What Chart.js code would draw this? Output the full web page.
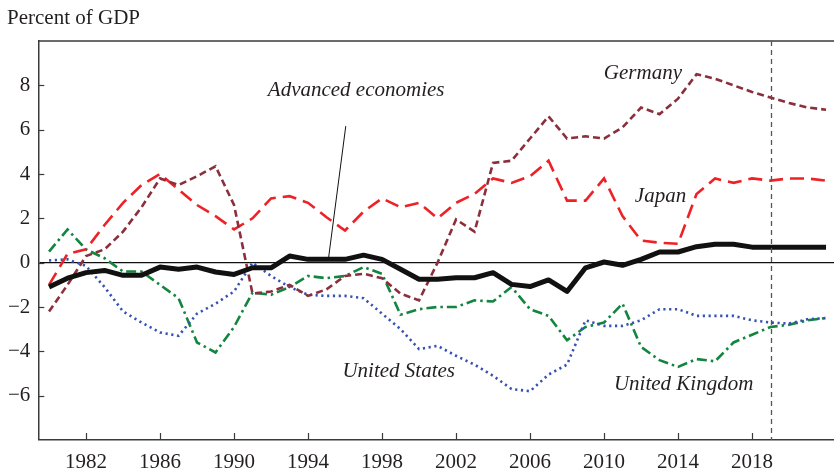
<!DOCTYPE html>
<html>
<head>
<meta charset="utf-8">
<script src="https://cdn.jsdelivr.net/npm/chart.js@4/dist/chart.umd.min.js"></script>
<style>
  html, body { margin: 0; padding: 0; background: #ffffff; }
  canvas { display: block; }
</style>
</head>
<body>
<canvas id="c" width="834" height="472"></canvas>
<script>
// ---- Data ----
const years = [];
for (let y = 1980; y <= 2022; y++) years.push(y);

const advancedEconomies = [-1.1,-0.7,-0.45,-0.35,-0.57,-0.57,-0.2,-0.3,-0.2,-0.42,-0.53,-0.23,-0.23,0.3,0.15,0.15,0.15,0.34,0.15,-0.3,-0.75,-0.75,-0.68,-0.68,-0.45,-0.98,-1.08,-0.78,-1.3,-0.23,0.03,-0.12,0.15,0.48,0.48,0.72,0.83,0.83,0.7,0.7,0.7,0.7,0.7];
const germany = [-2.2,-1.0,0.3,0.6,1.4,2.5,3.8,3.5,3.9,4.35,2.6,-1.4,-1.3,-1.0,-1.5,-1.2,-0.6,-0.5,-0.7,-1.4,-1.7,0.0,1.95,1.4,4.5,4.6,5.6,6.6,5.6,5.7,5.6,6.1,7.0,6.7,7.4,8.5,8.3,8.0,7.7,7.45,7.2,7.0,6.9];
const japan = [-1.0,0.4,0.6,1.7,2.7,3.5,4.0,3.3,2.6,2.1,1.5,2.0,2.9,3.0,2.7,2.05,1.45,2.3,2.9,2.5,2.7,2.0,2.7,3.1,3.8,3.6,3.9,4.6,2.8,2.8,3.8,2.1,1.0,0.9,0.85,3.1,3.8,3.6,3.8,3.7,3.8,3.8,3.7];
const unitedStates = [0.1,0.15,-0.15,-1.1,-2.2,-2.7,-3.15,-3.3,-2.3,-1.85,-1.3,0.0,-0.6,-1.1,-1.45,-1.5,-1.5,-1.6,-2.3,-3.0,-3.9,-3.75,-4.2,-4.6,-5.1,-5.7,-5.8,-5.05,-4.6,-2.6,-2.85,-2.85,-2.6,-2.1,-2.1,-2.4,-2.4,-2.4,-2.6,-2.7,-2.75,-2.55,-2.5];
const unitedKingdom = [0.5,1.5,0.6,0.2,-0.4,-0.4,-1.0,-1.6,-3.6,-4.05,-2.9,-1.35,-1.45,-1.1,-0.6,-0.7,-0.6,-0.2,-0.5,-2.35,-2.1,-2.0,-2.0,-1.7,-1.75,-1.1,-2.1,-2.4,-3.5,-2.9,-2.7,-1.85,-3.8,-4.4,-4.7,-4.35,-4.45,-3.6,-3.25,-2.9,-2.8,-2.6,-2.5];

const xTickYears = [1982,1986,1990,1994,1998,2002,2006,2010,2014,2018];
const yTickValues = [-6,-4,-2,0,2,4,6,8];
const projectionStart = 2019;

const axisTitle = "Percent of GDP";
// series labels: [text, year, value(baseline)]
const seriesLabels = [
  ["Germany", 2012.1, 8.27],
  ["Japan", 2013.05, 2.72],
  ["Advanced economies", 1996.6, 7.5],
  ["United States", 1998.9, -5.16],
  ["United Kingdom", 2014.3, -5.76]
];
// leader line from label to the Advanced economies line: [year, value] pairs
const leaderLine = [[1996.04, 6.16], [1995.1, 0.15]];

// ---- Build datasets ----
const pts = arr => arr.map((v, i) => ({ x: years[i], y: v }));

const SERIF = "'Liberation Serif', 'Times New Roman', serif";
const TEXT = "#231f20";

const overlay = {
  id: 'overlay',
  afterDraw(chart) {
    const ctx = chart.ctx;
    const xs = chart.scales.x, ys = chart.scales.y;
    const area = chart.chartArea;
    ctx.save();
    // top border
    ctx.strokeStyle = '#3a3a3a';
    ctx.lineWidth = 1.5;
    ctx.beginPath();
    ctx.moveTo(area.left, area.top);
    ctx.lineTo(area.right, area.top);
    ctx.stroke();
    // inward ticks
    ctx.lineWidth = 1.2;
    xTickYears.forEach(v => {
      const px = Math.round(xs.getPixelForValue(v)) + 0.5;
      ctx.beginPath();
      ctx.moveTo(px, area.bottom);
      ctx.lineTo(px, area.bottom - 7);
      ctx.stroke();
    });
    yTickValues.forEach(v => {
      const py = Math.round(ys.getPixelForValue(v)) + 0.5;
      ctx.beginPath();
      ctx.moveTo(area.left, py);
      ctx.lineTo(area.left + 6, py);
      ctx.stroke();
    });
    // projection dashed line
    const dx = Math.round(xs.getPixelForValue(projectionStart)) + 0.5;
    ctx.strokeStyle = '#555555';
    ctx.lineWidth = 1.3;
    ctx.setLineDash([5, 4]);
    ctx.beginPath();
    ctx.moveTo(dx, area.top);
    ctx.lineTo(dx, area.bottom);
    ctx.stroke();
    ctx.setLineDash([]);
    // leader line
    ctx.strokeStyle = '#111111';
    ctx.lineWidth = 1;
    ctx.beginPath();
    ctx.moveTo(xs.getPixelForValue(leaderLine[0][0]), ys.getPixelForValue(leaderLine[0][1]));
    ctx.lineTo(xs.getPixelForValue(leaderLine[1][0]), ys.getPixelForValue(leaderLine[1][1]));
    ctx.stroke();
    // series labels
    ctx.fillStyle = TEXT;
    ctx.font = "italic 21px " + SERIF;
    ctx.textAlign = 'center';
    ctx.textBaseline = 'alphabetic';
    seriesLabels.forEach(([t, x, y]) => {
      ctx.fillText(t, xs.getPixelForValue(x), ys.getPixelForValue(y));
    });
    // axis title
    ctx.font = "21px " + SERIF;
    ctx.textAlign = 'left';
    ctx.fillText(axisTitle, 7, 24);
    ctx.restore();
  }
};

new Chart(document.getElementById('c'), {
  type: 'line',
  data: {
    datasets: [
      { label: 'Advanced economies', data: pts(advancedEconomies), borderColor: '#111111', borderWidth: 5, borderJoinStyle: 'round' },
      { label: 'Germany', data: pts(germany), borderColor: '#8a2f3b', borderWidth: 2.6, borderDash: [7, 4] },
      { label: 'Japan', data: pts(japan), borderColor: '#ee2127', borderWidth: 2.6, borderDash: [14, 7] },
      { label: 'United States', data: pts(unitedStates), borderColor: '#3551b3', borderWidth: 2.6, borderDash: [2.2, 3.6] },
      { label: 'United Kingdom', data: pts(unitedKingdom), borderColor: '#12853f', borderWidth: 2.6, borderDash: [10, 4, 2.5, 4] }
    ]
  },
  options: {
    responsive: false,
    animation: false,
    devicePixelRatio: 1,
    layout: { padding: { top: 41, left: 0, right: 0, bottom: 0 } },
    elements: { point: { radius: 0 }, line: { tension: 0 } },
    plugins: { legend: { display: false }, tooltip: { enabled: false } },
    scales: {
      x: {
        type: 'linear',
        min: 1979.42,
        max: 2022.43,
        afterFit(s) { s.height = 32; },
        afterBuildTicks(s) { s.ticks = xTickYears.map(v => ({ value: v })); },
        ticks: { font: { family: SERIF, size: 21 }, color: TEXT, padding: 10, maxRotation: 0, autoSkip: false, callback: v => String(v) },
        grid: { display: false, drawTicks: false },
        border: { display: true, color: '#3a3a3a', width: 1.5 }
      },
      y: {
        min: -8,
        max: 10,
        afterFit(s) { s.width = 38.3; },
        afterBuildTicks(s) { s.ticks = yTickValues.map(v => ({ value: v })); },
        ticks: {
          font: { family: SERIF, size: 21 }, color: TEXT, padding: 8,
          callback: v => (v < 0 ? '\u2212' + Math.abs(v) : String(v))
        },
        grid: {
          drawTicks: false,
          color: c => (c.tick && c.tick.value === 0 ? '#111111' : 'rgba(0,0,0,0)'),
          lineWidth: c => (c.tick && c.tick.value === 0 ? 1.3 : 0)
        },
        border: { display: true, color: '#3a3a3a', width: 1.5 }
      }
    }
  },
  plugins: [overlay]
});
</script>
</body>
</html>
